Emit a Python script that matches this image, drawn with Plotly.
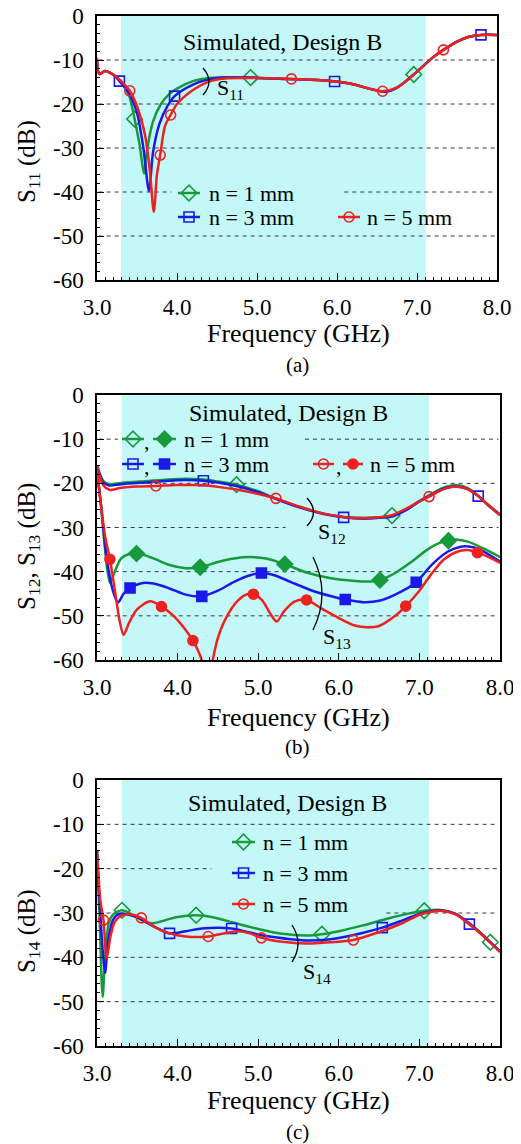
import plotly.graph_objects as go

# The page body has an 8 px margin, so the figure is laid out in screen pixels offset by OFF.
OFF = 8
SW, SH = 521, 1144
W, H = SW - OFF, SH - OFF
FONT = "Liberation Serif"
GREEN, BLUE, RED = "#169a3c", "#1a1ae8", "#ee2020"
CYAN = "#c4f8f8"

# ---------------- (a) S11 ----------------
s11_n1_f = [3.0, 3.03, 3.1, 3.2, 3.3, 3.4, 3.47, 3.53, 3.59, 3.63, 3.7, 3.8, 3.9, 4.0, 4.2, 4.4, 4.6, 4.92, 5.2, 5.5, 5.8, 6.0, 6.2, 6.4, 6.6, 6.75, 6.96, 7.1, 7.2, 7.33, 7.5, 7.65, 7.8, 8.0]
s11_n1_db = [-10, -13.2, -12.5, -13.3, -14.8, -18.0, -23.4, -29.0, -35.8, -30.0, -24.0, -20.0, -17.8, -16.5, -14.8, -14.1, -13.9, -14.0, -14.2, -14.4, -14.6, -14.9, -15.5, -16.5, -17.2, -16.3, -13.3, -11.0, -9.4, -7.7, -5.8, -4.7, -4.3, -4.3]
s11_n3_f = [3.0, 3.03, 3.1, 3.2, 3.28, 3.4, 3.5, 3.58, 3.65, 3.7, 3.78, 3.88, 3.97, 4.2, 4.4, 4.6, 4.92, 5.2, 5.5, 5.8, 5.97, 6.2, 6.4, 6.6, 6.75, 6.96, 7.1, 7.2, 7.33, 7.5, 7.65, 7.8, 8.0]
s11_n3_db = [-10, -13.2, -12.5, -13.3, -14.8, -17.5, -22.0, -30.0, -39.8, -31.0, -24.5, -20.5, -18.2, -15.6, -14.4, -14.0, -14.0, -14.2, -14.4, -14.6, -14.9, -15.5, -16.5, -17.2, -16.3, -13.3, -11.0, -9.4, -7.7, -5.8, -4.7, -4.3, -4.3]
s11_n5_f = [3.0, 3.03, 3.1, 3.2, 3.3, 3.41, 3.5, 3.6, 3.66, 3.71, 3.75, 3.79, 3.85, 3.92, 4.0, 4.2, 4.4, 4.6, 4.9, 5.43, 5.8, 6.0, 6.2, 6.4, 6.57, 6.75, 6.96, 7.1, 7.2, 7.33, 7.5, 7.65, 7.8, 8.0]
s11_n5_db = [-9.5, -13.2, -12.5, -13.3, -14.8, -17.0, -20.5, -27.0, -35.0, -44.5, -36.0, -31.6, -25.0, -22.5, -20.0, -16.8, -14.9, -14.2, -14.1, -14.3, -14.6, -14.9, -15.5, -16.5, -17.1, -16.3, -13.3, -11.0, -9.4, -7.7, -5.8, -4.7, -4.3, -4.3]
s11_n1_mf = [3.47, 4.92, 6.96]
s11_n1_mdb = [-23.4, -14.0, -13.3]
s11_n3_mf = [3.28, 3.97, 5.97, 7.8]
s11_n3_mdb = [-14.8, -18.2, -14.9, -4.3]
s11_n5_mf = [3.41, 3.79, 3.92, 5.43, 6.57, 7.33]
s11_n5_mdb = [-17.0, -31.6, -22.5, -14.3, -17.1, -7.7]

# ---------------- (b) S12 / S13 ----------------
s12_n1_f = [3.0, 3.08, 3.15, 3.3, 3.6, 4.0, 4.3, 4.5, 4.73, 5.0, 5.2, 5.5, 5.8, 6.06, 6.3, 6.5, 6.66, 6.85, 7.0, 7.12, 7.3, 7.45, 7.6, 7.73, 7.85, 8.0]
s12_n1_db = [-16, -19.5, -20.2, -19.9, -19.5, -19.0, -19.1, -19.6, -20.3, -21.8, -23.3, -25.3, -26.8, -27.6, -27.8, -27.7, -27.3, -25.8, -24.0, -22.7, -21.0, -20.4, -21.1, -22.8, -24.8, -27.0]
s12_n3_f = [3.0, 3.08, 3.15, 3.3, 3.6, 4.0, 4.32, 4.5, 4.73, 5.0, 5.2, 5.5, 5.8, 6.06, 6.3, 6.5, 6.66, 6.85, 7.0, 7.12, 7.3, 7.45, 7.6, 7.73, 7.85, 8.0]
s12_n3_db = [-16, -19.8, -20.5, -20.2, -19.8, -19.3, -19.4, -19.8, -20.6, -22.0, -23.4, -25.4, -26.9, -27.7, -28.0, -27.8, -27.5, -25.9, -24.1, -22.9, -21.2, -20.7, -21.3, -22.9, -24.9, -27.2]
s12_n5_f = [3.0, 3.08, 3.16, 3.3, 3.5, 3.73, 4.0, 4.3, 4.5, 4.73, 5.0, 5.22, 5.5, 5.8, 6.06, 6.3, 6.5, 6.66, 6.85, 7.0, 7.12, 7.3, 7.45, 7.6, 7.73, 7.85, 8.0]
s12_n5_db = [-16, -20.5, -21.5, -21.0, -20.7, -20.6, -20.4, -20.4, -20.8, -21.4, -22.4, -23.4, -25.2, -26.8, -27.6, -27.9, -27.7, -27.2, -25.6, -24.1, -23.0, -21.3, -20.7, -21.3, -22.9, -24.9, -27.2]
s12_n1_mf = [4.73, 6.66]
s12_n1_mdb = [-20.3, -27.3]
s12_n3_mf = [4.32, 6.06, 7.73]
s12_n3_mdb = [-19.4, -27.7, -22.9]
s12_n5_mf = [3.73, 5.22, 7.12]
s12_n5_mdb = [-20.6, -23.4, -23.0]

s13_n1_f = [3.0, 3.05, 3.1, 3.16, 3.22, 3.3, 3.4, 3.5, 3.7, 3.9, 4.1, 4.28, 4.5, 4.7, 4.9, 5.1, 5.33, 5.6, 5.9, 6.2, 6.4, 6.51, 6.7, 6.9, 7.1, 7.25, 7.36, 7.46, 7.6, 7.8, 8.0]
s13_n1_db = [-17, -25, -35, -42.5, -40.0, -37.0, -36.0, -35.8, -37.0, -38.5, -39.2, -39.0, -37.8, -37.0, -36.7, -37.0, -38.3, -40.2, -41.5, -42.1, -42.2, -41.9, -40.3, -37.8, -35.0, -33.5, -32.9, -32.7, -33.2, -34.8, -36.7]
s13_n3_f = [3.0, 3.05, 3.12, 3.2, 3.26, 3.33, 3.41, 3.55, 3.7, 3.9, 4.1, 4.3, 4.5, 4.7, 4.9, 5.04, 5.2, 5.4, 5.7, 6.0, 6.08, 6.3, 6.5, 6.7, 6.96, 7.15, 7.35, 7.5, 7.61, 7.75, 8.0]
s13_n3_db = [-17, -25, -37, -44.5, -47.0, -45.0, -43.7, -42.6, -42.7, -43.8, -45.2, -45.6, -44.3, -42.3, -40.8, -40.3, -40.8, -42.3, -44.5, -46.0, -46.3, -46.9, -46.6, -45.2, -42.4, -38.5, -35.5, -34.4, -34.3, -35.0, -37.7]
s13_n5_f = [3.0, 3.05, 3.1, 3.16, 3.22, 3.28, 3.33, 3.4, 3.5, 3.66, 3.8, 3.95, 4.1, 4.19, 4.28, 4.33, 4.38, 4.43, 4.5, 4.6, 4.75, 4.88, 4.94, 5.05, 5.15, 5.23, 5.32, 5.45, 5.6, 5.8, 6.0, 6.2, 6.35, 6.5, 6.7, 6.83, 7.0, 7.15, 7.3, 7.45, 7.6, 7.72, 7.85, 8.0]
s13_n5_db = [-17, -25, -32, -37.2, -44.0, -51.0, -54.3, -51.5, -48.5, -46.7, -47.9, -50.0, -53.2, -55.6, -59.0, -62.0, -65.0, -60.5, -55.0, -50.5, -46.5, -45.0, -45.1, -46.5, -49.5, -51.3, -49.0, -46.8, -46.4, -48.5, -50.5, -52.2, -52.6, -52.3, -50.0, -47.8, -44.3, -40.5, -37.3, -35.6, -35.1, -35.7, -36.6, -38.0]
s13_n1_mf = [3.49, 4.28, 5.33, 6.51, 7.36]
s13_n1_mdb = [-35.9, -39.0, -38.3, -41.9, -33.0]
s13_n3_mf = [3.41, 4.3, 5.04, 6.08, 6.96]
s13_n3_mdb = [-43.7, -45.6, -40.3, -46.3, -42.4]
s13_n5_mf = [3.16, 3.8, 4.19, 4.94, 5.6, 6.83, 7.72]
s13_n5_mdb = [-37.2, -47.9, -55.6, -45.1, -46.4, -47.8, -35.7]

# ---------------- (c) S14 ----------------
s14_n1_f = [3.0, 3.03, 3.07, 3.1, 3.15, 3.2, 3.31, 3.45, 3.6, 3.7, 3.85, 4.0, 4.23, 4.45, 4.7, 5.0, 5.3, 5.6, 5.79, 6.0, 6.3, 6.6, 6.85, 7.06, 7.26, 7.45, 7.62, 7.75, 7.88, 8.0]
s14_n1_db = [-16, -30, -48.9, -40, -32, -30.3, -29.4, -30.5, -32.0, -32.3, -31.6, -30.9, -30.5, -31.0, -32.2, -33.6, -34.7, -35.1, -34.8, -34.1, -32.8, -31.3, -30.2, -29.5, -29.3, -30.2, -32.3, -34.3, -36.6, -38.7]
s14_n3_f = [3.0, 3.04, 3.1, 3.14, 3.2, 3.27, 3.35, 3.5, 3.65, 3.9, 4.1, 4.3, 4.5, 4.67, 4.85, 5.1, 5.4, 5.64, 5.9, 6.2, 6.54, 6.8, 7.0, 7.15, 7.26, 7.45, 7.62, 7.75, 7.88, 8.0]
s14_n3_db = [-16, -30, -43.5, -36, -31.5, -30.2, -30.2, -31.0, -32.5, -34.6, -34.1, -33.5, -33.3, -33.5, -34.2, -35.2, -35.9, -36.2, -35.9, -34.9, -33.3, -31.6, -30.2, -29.6, -29.4, -30.2, -32.5, -34.4, -36.6, -38.7]
s14_n5_f = [3.0, 3.04, 3.08, 3.12, 3.17, 3.22, 3.3, 3.4, 3.55, 3.7, 3.9, 4.1, 4.38, 4.6, 4.75, 4.9, 5.04, 5.3, 5.6, 5.9, 6.18, 6.5, 6.8, 7.0, 7.15, 7.26, 7.45, 7.62, 7.75, 7.88, 8.0]
s14_n5_db = [-16, -27, -31.6, -40.2, -35, -32, -30.6, -30.3, -31.1, -33.0, -34.6, -35.3, -35.3, -34.5, -34.1, -34.6, -35.6, -36.5, -36.9, -36.6, -36.1, -34.3, -32.2, -30.4, -29.7, -29.5, -30.3, -32.6, -34.5, -36.7, -38.8]
s14_n1_mf = [3.31, 4.23, 5.79, 7.06, 7.88]
s14_n1_mdb = [-29.4, -30.5, -34.8, -29.5, -36.6]
s14_n3_mf = [3.9, 4.67, 6.54, 7.62]
s14_n3_mdb = [-34.6, -33.5, -33.3, -32.5]
s14_n5_mf = [3.08, 3.55, 4.38, 5.04, 6.18]
s14_n5_mdb = [-31.6, -31.1, -35.3, -35.6, -36.1]

legend_labels = ["n = 1 mm", "n = 3 mm", "n = 5 mm"]
x_ticks = [3.0, 4.0, 5.0, 6.0, 7.0, 8.0]
x_ticktext = ["3.0", "4.0", "5.0", "6.0", "7.0", "8.0"]
y_ticks = [0, -10, -20, -30, -40, -50, -60]
y_ticktext = ["0", "-10", "-20", "-30", "-40", "-50", "-60"]

# ---------------- layout geometry (screen pixels) ----------------
panels = {
    "a": dict(xd=(97, 497), yd=(16, 280), band=(3.30, 7.11)),
    "b": dict(xd=(97, 500), yd=(395, 660), band=(3.31, 7.12)),
    "c": dict(xd=(97, 500), yd=(780, 1046), band=(3.31, 7.12)),
}
axis_ids = {"a": ("x", "y", ""), "b": ("x2", "y2", "2"), "c": ("x3", "y3", "3")}
grid_gaps = {
    "a": {-40: [(3.95, 6.07)]},
    "b": {-10: [(3.28, 5.56)], -30: [(5.36, 6.55)]},
    "c": {-20: [(4.44, 6.6)], -30: [(3.35, 6.57)]},
}


def dom_x(px):
    return (px - OFF) / W


def dom_y(py):
    return 1 - (py - OFF) / H


fig = go.Figure()
sym_open = {"1": "diamond-open", "3": "square-open", "5": "circle-open"}
sym_fill = {"1": "diamond", "3": "square", "5": "circle"}
msize = {"1": 12, "3": 10, "5": 10}
colors = {"1": GREEN, "3": BLUE, "5": RED}


def add_series(xa, ya, f, db, mf, mdb, n, filled=False):
    fig.add_trace(go.Scatter(x=f, y=db, mode="lines", xaxis=xa, yaxis=ya,
                             line=dict(color=colors[n], width=2.5, shape="spline", smoothing=0.8),
                             showlegend=False, hoverinfo="skip"))
    fig.add_trace(go.Scatter(x=mf, y=mdb, mode="markers", xaxis=xa, yaxis=ya,
                             marker=dict(symbol=sym_fill[n] if filled else sym_open[n], size=msize[n],
                                         color=colors[n], line=dict(color=colors[n], width=1.6)),
                             showlegend=False, hoverinfo="skip"))


add_series("x", "y", s11_n1_f, s11_n1_db, s11_n1_mf, s11_n1_mdb, "1")
add_series("x", "y", s11_n3_f, s11_n3_db, s11_n3_mf, s11_n3_mdb, "3")
add_series("x", "y", s11_n5_f, s11_n5_db, s11_n5_mf, s11_n5_mdb, "5")
add_series("x2", "y2", s12_n1_f, s12_n1_db, s12_n1_mf, s12_n1_mdb, "1")
add_series("x2", "y2", s12_n3_f, s12_n3_db, s12_n3_mf, s12_n3_mdb, "3")
add_series("x2", "y2", s12_n5_f, s12_n5_db, s12_n5_mf, s12_n5_mdb, "5")
add_series("x2", "y2", s13_n1_f, s13_n1_db, s13_n1_mf, s13_n1_mdb, "1", True)
add_series("x2", "y2", s13_n3_f, s13_n3_db, s13_n3_mf, s13_n3_mdb, "3", True)
add_series("x2", "y2", s13_n5_f, s13_n5_db, s13_n5_mf, s13_n5_mdb, "5", True)
add_series("x3", "y3", s14_n1_f, s14_n1_db, s14_n1_mf, s14_n1_mdb, "1")
add_series("x3", "y3", s14_n3_f, s14_n3_db, s14_n3_mf, s14_n3_mdb, "3")
add_series("x3", "y3", s14_n5_f, s14_n5_db, s14_n5_mf, s14_n5_mdb, "5")

shapes = []
annotations = []
layout_axes = {}
for key, p in panels.items():
    xa, ya, suf = axis_ids[key]
    x0, x1 = p["xd"]
    y0, y1 = p["yd"]
    layout_axes["xaxis" + suf] = dict(
        domain=[dom_x(x0), dom_x(x1)], anchor=ya, range=[3, 8], tickmode="array",
        tickvals=x_ticks, ticktext=x_ticktext, ticks="inside", ticklen=7, tickwidth=1,
        tickcolor="black", minor=dict(dtick=0.1, tick0=3, ticks="inside", ticklen=3, tickcolor="black", tickwidth=1),
        showline=True, linecolor="black", linewidth=1.5, mirror=True, showgrid=False,
        zeroline=False, automargin=False, ticklabelstandoff=6, ticklabeloverflow="allow",
        tickfont=dict(family=FONT, size=23, color="black"), fixedrange=True)
    layout_axes["yaxis" + suf] = dict(
        domain=[dom_y(y1), dom_y(y0)], anchor=xa, range=[-60, 0], tickmode="array",
        tickvals=y_ticks, ticktext=y_ticktext, ticks="inside", ticklen=7, tickwidth=1,
        tickcolor="black", minor=dict(dtick=2, tick0=0, ticks="inside", ticklen=3, tickcolor="black", tickwidth=1),
        showline=True, linecolor="black", linewidth=1.5, mirror=True, showgrid=False,
        zeroline=False, automargin=False, ticklabelstandoff=7, ticklabeloverflow="allow",
        tickfont=dict(family=FONT, size=23, color="black"), fixedrange=True)
    # cyan band
    shapes.append(dict(type="rect", xref=xa, yref=ya + " domain", x0=p["band"][0], x1=p["band"][1],
                       y0=0, y1=1, fillcolor=CYAN, line=dict(width=0), layer="below"))
    # dashed grid lines
    for gy in [-10, -20, -30, -40, -50]:
        segs = [(3.0, 8.0)]
        for g0, g1 in grid_gaps[key].get(gy, []):
            new = []
            for s0, s1 in segs:
                if g1 <= s0 or g0 >= s1:
                    new.append((s0, s1))
                else:
                    if g0 > s0:
                        new.append((s0, g0))
                    if g1 < s1:
                        new.append((g1, s1))
            segs = new
        for s0, s1 in segs:
            shapes.append(dict(type="line", xref=xa, yref=ya, x0=s0 + 0.02, x1=s1 - 0.02, y0=gy, y1=gy,
                               line=dict(color="#3a3a3a", width=1, dash="4px,4px"), layer="below"))

# overlay axis in screen-pixel units for legends / annotations
layout_axes["xaxis4"] = dict(domain=[0, 1], anchor="y4", range=[OFF, SW], visible=False,
                             automargin=False, fixedrange=True)
layout_axes["yaxis4"] = dict(domain=[0, 1], anchor="x4", range=[SH, OFF], visible=False,
                             automargin=False, fixedrange=True)


def ann(x, y, text, size, xanchor="center", angle=0):
    annotations.append(dict(x=x, y=y, xref="x4", yref="y4", text=text, showarrow=False,
                            xanchor=xanchor, yanchor="middle", textangle=angle,
                            font=dict(family=FONT, size=size, color="black")))


def glyph(xl, xr, y, n, filled=False):
    fig.add_trace(go.Scatter(x=[xl, xr], y=[y, y], mode="lines", xaxis="x4", yaxis="y4",
                             line=dict(color=colors[n], width=2.5), showlegend=False, hoverinfo="skip"))
    fig.add_trace(go.Scatter(x=[(xl + xr) / 2], y=[y], mode="markers", xaxis="x4", yaxis="y4",
                             marker=dict(symbol=sym_fill[n] if filled else sym_open[n], size=msize[n],
                                         color=colors[n], line=dict(color=colors[n], width=1.6)),
                             showlegend=False, hoverinfo="skip"))


# (a) legend
glyph(178, 200, 193, "1"); ann(207, 193, legend_labels[0], 22, "left")
glyph(178, 200, 217, "3"); ann(207, 217, legend_labels[1], 22, "left")
glyph(338, 360, 217, "5"); ann(365, 217, legend_labels[2], 22, "left")
# (b) legend
for (y, n, xs) in [(439, "1", (122, 144, 147, 153, 176, 182)),
                   (464, "3", (122, 144, 147, 153, 176, 182)),
                   (464, "5", (313, 334, 339, 343, 363, 368))]:
    glyph(xs[0], xs[1], y, n)
    ann(xs[2], y + 2, ",", 22)
    glyph(xs[3], xs[4], y, n, True)
    ann(xs[5], y, legend_labels[["1", "3", "5"].index(n)], 22, "left")
# (c) legend
for y, n, lab in [(842, "1", legend_labels[0]), (873, "3", legend_labels[1]), (904, "5", legend_labels[2])]:
    glyph(232, 255, y, n)
    ann(261, y, lab, 22, "left")

# titles
for (cx, cy) in [(282, 42), (288, 413), (287, 803)]:
    ann(cx, cy, "Simulated, Design B", 24)
for cy in [333, 717, 1100]:
    ann(298, cy, "Frequency (GHz)", 26)
for cy, lab in [(365, "(a)"), (747, "(b)"), (1132, "(c)")]:
    ann(297, cy, lab, 21)
ann(28, 162, "S<sub>11</sub> (dB)", 25, angle=-90)
ann(28, 547, "S<sub>12</sub>, S<sub>13</sub> (dB)", 25, angle=-90)
ann(28, 932, "S<sub>14</sub> (dB)", 25, angle=-90)

# brackets + labels
for (bx, by0, by1, bulge, tx, ty, lab) in [
        (203, 68, 95, 12, 215, 89, "S<sub>11</sub>"),
        (307, 498, 526, 13, 316, 533, "S<sub>12</sub>"),
        (313, 557, 630, 18, 321, 638, "S<sub>13</sub>"),
        (292, 925, 962, 12, 301, 973, "S<sub>14</sub>")]:
    shapes.append(dict(type="path", xref="x4", yref="y4",
                       path=f"M {bx} {by0} Q {bx + bulge} {(by0 + by1) / 2} {bx} {by1}",
                       line=dict(color="black", width=1.3)))
    ann(tx, ty, lab, 22, "left")

fig.update_layout(
    template="none",
    width=W, height=H, autosize=False,
    margin=dict(l=0, r=0, t=0, b=0, pad=0),
    font=dict(family=FONT, color="black"),
    paper_bgcolor="white", plot_bgcolor="rgba(0,0,0,0)",
    showlegend=False, shapes=shapes, annotations=annotations,
    **layout_axes)

fig.write_html("out.html")
